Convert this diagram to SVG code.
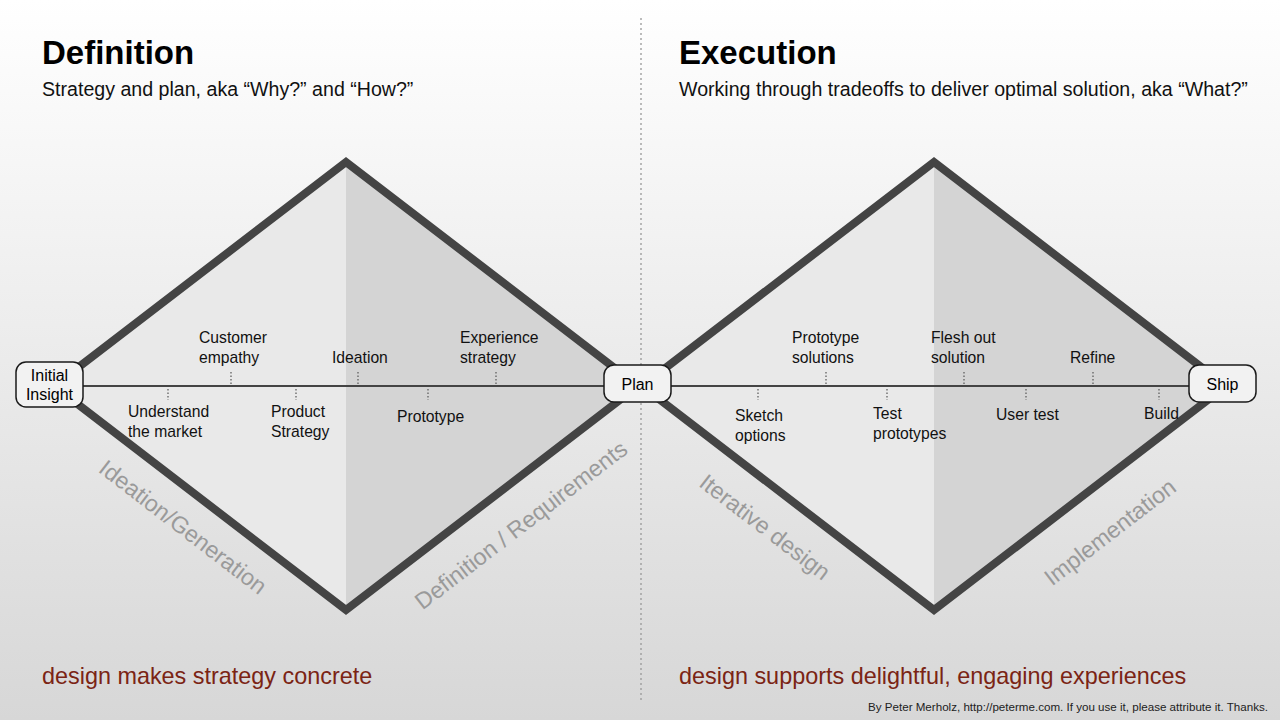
<svg xmlns="http://www.w3.org/2000/svg" width="1280" height="720" viewBox="0 0 1280 720">
<defs>
<linearGradient id="bg" x1="0" y1="0" x2="0" y2="1">
<stop offset="0" stop-color="#ffffff"/>
<stop offset="1" stop-color="#d7d7d7"/>
</linearGradient>
<style>
text{font-family:"Liberation Sans",Arial,Helvetica,sans-serif;}
.lbl{font-size:15.7px;fill:#111;}
.title{font-size:33px;font-weight:bold;fill:#000;}
.sub{font-size:19.6px;fill:#111;}
.foot{font-size:23.4px;fill:#7b2414;}
.phase{font-size:23.2px;fill:#9a9a9a;}
.tick{stroke:#555;stroke-width:1.2;stroke-dasharray:1.5 2;fill:none;}
.dia{fill:none;stroke:#444;stroke-width:8;stroke-linejoin:miter;}
.node rect{fill:#f2f2f2;stroke:#1a1a1a;stroke-width:1.5;}
.node text{font-size:16px;fill:#000;text-anchor:middle;}
</style>
</defs>
<rect width="1280" height="720" fill="url(#bg)"/>
<line x1="641" y1="18" x2="641" y2="700" stroke="#999" stroke-width="1.3" stroke-dasharray="2 3"/>

<g id="diamond-definition">
<polygon points="54,386 346,162 346,610" fill="#e9e9e9"/>
<polygon points="346,162 638,386 346,610" fill="#d4d4d4"/>
<polygon class="dia" points="54,386 346,162 638,386 346,610"/>
</g>
<g id="diamond-execution">
<polygon points="642,386 934,162 934,610" fill="#e9e9e9"/>
<polygon points="934,162 1226,386 934,610" fill="#d4d4d4"/>
<polygon class="dia" points="642,386 934,162 1226,386 934,610"/>
</g>

<g id="connectors">
<line x1="80" y1="386" x2="1192" y2="386" stroke="#444" stroke-width="2"/>
<line class="tick" x1="168" y1="389" x2="168" y2="400"/>
<line class="tick" x1="231" y1="372" x2="231" y2="384"/>
<line class="tick" x1="296" y1="389" x2="296" y2="400"/>
<line class="tick" x1="358" y1="372" x2="358" y2="384"/>
<line class="tick" x1="428" y1="389" x2="428" y2="400"/>
<line class="tick" x1="496" y1="372" x2="496" y2="384"/>
<line class="tick" x1="758" y1="389" x2="758" y2="400"/>
<line class="tick" x1="826" y1="372" x2="826" y2="384"/>
<line class="tick" x1="887" y1="389" x2="887" y2="400"/>
<line class="tick" x1="964" y1="372" x2="964" y2="384"/>
<line class="tick" x1="1026" y1="389" x2="1026" y2="400"/>
<line class="tick" x1="1093" y1="372" x2="1093" y2="384"/>
<line class="tick" x1="1159" y1="389" x2="1159" y2="400"/>
</g>

<g id="node-initial-insight" class="node">
<rect x="16" y="362" width="67" height="45" rx="10"/>
<text x="49.5" y="381">Initial</text>
<text x="49.5" y="400">Insight</text>
</g>
<g id="node-plan" class="node">
<rect x="604" y="365" width="67" height="37" rx="10"/>
<text x="637.5" y="389.5">Plan</text>
</g>
<g id="node-ship" class="node">
<rect x="1189" y="365" width="67" height="37" rx="10"/>
<text x="1222.5" y="389.5">Ship</text>
</g>

<g id="labels">
<text class="lbl" x="128" y="417">Understand</text>
<text class="lbl" x="128" y="437">the market</text>
<text class="lbl" x="199" y="343">Customer</text>
<text class="lbl" x="199" y="363">empathy</text>
<text class="lbl" x="271" y="417">Product</text>
<text class="lbl" x="271" y="437">Strategy</text>
<text class="lbl" x="332" y="363">Ideation</text>
<text class="lbl" x="397" y="422">Prototype</text>
<text class="lbl" x="460" y="343">Experience</text>
<text class="lbl" x="460" y="363">strategy</text>
<text class="lbl" x="735" y="421">Sketch</text>
<text class="lbl" x="735" y="441">options</text>
<text class="lbl" x="792" y="343">Prototype</text>
<text class="lbl" x="792" y="363">solutions</text>
<text class="lbl" x="873" y="419">Test</text>
<text class="lbl" x="873" y="439">prototypes</text>
<text class="lbl" x="931" y="343">Flesh out</text>
<text class="lbl" x="931" y="363">solution</text>
<text class="lbl" x="996" y="420">User test</text>
<text class="lbl" x="1070" y="363">Refine</text>
<text class="lbl" x="1144" y="419">Build</text>
</g>

<g id="phases">
<text class="phase" text-anchor="middle" transform="translate(183,527) rotate(37.5)" dy="8">Ideation/Generation</text>
<text class="phase" text-anchor="middle" transform="translate(521,525) rotate(-37.5)" dy="8">Definition / Requirements</text>
<text class="phase" text-anchor="middle" transform="translate(765,527) rotate(37.5)" dy="8">Iterative design</text>
<text class="phase" text-anchor="middle" transform="translate(1110,532) rotate(-37.5)" dy="8">Implementation</text>
</g>

<g id="headings">
<text class="title" x="42" y="64">Definition</text>
<text class="sub" x="42" y="96">Strategy and plan, aka “Why?” and “How?”</text>
<text class="title" x="679" y="64">Execution</text>
<text class="sub" x="679" y="96">Working through tradeoffs to deliver optimal solution, aka “What?”</text>
<text class="foot" x="42" y="684">design makes strategy concrete</text>
<text class="foot" x="679" y="684">design supports delightful, engaging experiences</text>
<text x="1268" y="711" text-anchor="end" font-size="11.6" fill="#222">By Peter Merholz, http://peterme.com. If you use it, please attribute it. Thanks.</text>
</g>
</svg>
